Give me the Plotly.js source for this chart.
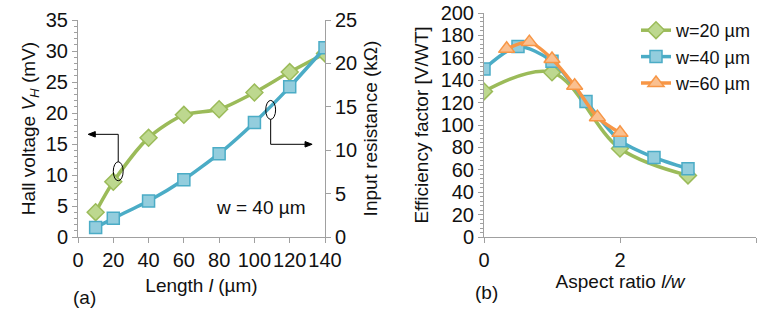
<!DOCTYPE html>
<html>
<head>
<meta charset="utf-8">
<script src="https://cdn.plot.ly/plotly-3.0.1.min.js"></script>
<style>html,body{margin:0;padding:0;background:#fff;}#chart{width:757px;height:324px;}</style>
</head>
<body>
<div id="chart"></div>
<script>
// Panel (a): Hall voltage and input resistance vs length (w = 40 µm)
const lengthUm = [10, 20, 40, 60, 80, 100, 120, 140];
const hallVoltageMV = [4.0, 8.9, 16.0, 19.7, 20.6, 23.3, 26.6, 29.6];
const inputResistanceKOhm = [1.1, 2.15, 4.15, 6.6, 9.6, 13.2, 17.3, 21.8];

// Panel (b): efficiency factor vs aspect ratio
const ratioW20 = [0, 1, 2, 3];
const effW20 = [130, 147, 79, 55];
const ratioW40 = [0, 0.5, 1, 1.5, 2, 2.5, 3];
const effW40 = [150, 170, 157, 121, 86, 71, 61];
const ratioW60 = [0.333, 0.667, 1, 1.333, 1.667, 2];
const effW60 = [168, 174, 159, 135, 107, 93];

const seriesNames = ['w=20 µm', 'w=40 µm', 'w=60 µm'];

const GREEN = '#9BBB59', GREEN_F = '#BDD88F';
const BLUE = '#4BACC6', BLUE_F = '#93CDDD';
const ORANGE = '#F79646', ORANGE_F = '#FAC090';
const FONT = 'Liberation Sans, Arial, sans-serif';
const AXC = '#A0A0A0';
const TXT = '#111';

const traces = [
  {x: lengthUm, y: hallVoltageMV, xaxis: 'x', yaxis: 'y', type: 'scatter', mode: 'lines+markers',
   line: {color: GREEN, width: 3.5, shape: 'spline', smoothing: 0.8},
   marker: {symbol: 'diamond', size: 13, color: GREEN_F, line: {color: GREEN, width: 1.5}}, showlegend: false},
  {x: lengthUm, y: inputResistanceKOhm, xaxis: 'x', yaxis: 'y2', type: 'scatter', mode: 'lines+markers',
   line: {color: BLUE, width: 3.5, shape: 'spline', smoothing: 0.5},
   marker: {symbol: 'square', size: 12, color: BLUE_F, line: {color: BLUE, width: 1.5}}, showlegend: false},
  {x: ratioW20, y: effW20, xaxis: 'x2', yaxis: 'y3', type: 'scatter', mode: 'lines+markers', name: seriesNames[0],
   line: {color: GREEN, width: 3.5, shape: 'spline', smoothing: 1},
   marker: {symbol: 'diamond', size: 13, color: GREEN_F, line: {color: GREEN, width: 1.5}}},
  {x: ratioW40, y: effW40, xaxis: 'x2', yaxis: 'y3', type: 'scatter', mode: 'lines+markers', name: seriesNames[1],
   line: {color: BLUE, width: 3.5, shape: 'spline', smoothing: 0.8},
   marker: {symbol: 'square', size: 12, color: BLUE_F, line: {color: BLUE, width: 1.5}}},
  {x: ratioW60, y: effW60, xaxis: 'x2', yaxis: 'y3', type: 'scatter', mode: 'lines+markers', name: seriesNames[2],
   line: {color: ORANGE, width: 3.5, shape: 'spline', smoothing: 0.8},
   marker: {symbol: 'triangle-up', size: 14, color: ORANGE_F, line: {color: ORANGE, width: 1.5}}}
];

const W = 757, H = 324;
const px = v => v / W;
const py = v => (H - v) / H;

const baseAxis = {
  showline: true, linecolor: AXC, linewidth: 1, showgrid: false, zeroline: false,
  ticks: 'outside', ticklen: 5, tickcolor: AXC, tickwidth: 1, tickangle: 0,
  tickfont: {family: FONT, size: 20, color: TXT}, fixedrange: true
};
const titleFont = {family: FONT, size: 19, color: TXT};

const layout = {
  width: W, height: H,
  margin: {l: 0, r: 0, t: 0, b: 0},
  paper_bgcolor: '#fff', plot_bgcolor: 'rgba(0,0,0,0)',
  font: {family: FONT, size: 18, color: TXT},
  xaxis: Object.assign({}, baseAxis, {domain: [px(78), px(325)], range: [0, 140], dtick: 20, anchor: 'y',
    title: {text: 'Length <i>l</i> (µm)', font: titleFont, standoff: 8}}),
  yaxis: Object.assign({}, baseAxis, {domain: [py(237), py(20)], range: [0, 35], dtick: 5, anchor: 'x',
    minor: {dtick: 1, ticks: 'outside', ticklen: 3, tickcolor: AXC, showgrid: false},
    title: {text: 'Hall voltage <i>V<sub>H</sub></i> (mV)', font: titleFont, standoff: 5}}),
  yaxis2: Object.assign({}, baseAxis, {overlaying: 'y', side: 'right', anchor: 'x', range: [0, 25], dtick: 5,
    title: {text: 'Input resistance (kΩ)', font: titleFont, standoff: 7}}),
  xaxis2: Object.assign({}, baseAxis, {domain: [px(484), px(756)], range: [0, 4], dtick: 2, anchor: 'y3',
    title: {text: 'Aspect ratio <i>l/w</i>', font: titleFont, standoff: 3}}),
  yaxis3: Object.assign({}, baseAxis, {domain: [py(237), py(13)], range: [0, 200], dtick: 20, anchor: 'x2',
    minor: {dtick: 4, ticks: 'outside', ticklen: 3, tickcolor: AXC, showgrid: false},
    title: {text: 'Efficiency factor [V/WT]', font: titleFont, standoff: 6}}),
  showlegend: true,
  legend: {x: px(636), y: py(12), xanchor: 'left', yanchor: 'top', bgcolor: 'rgba(0,0,0,0)',
    font: {family: FONT, size: 18, color: TXT}, tracegroupgap: 0, itemwidth: 30},
  shapes: [
    // left ellipse + leader pointing to the left axis
    {type: 'circle', xref: 'x', yref: 'y', x0: 20.0, x1: 25.6, y0: 9.07, y1: 12.13, line: {color: '#000', width: 1}},
    {type: 'line', xref: 'x', yref: 'y', x0: 22.8, x1: 22.8, y0: 12.13, y1: 16.56, line: {color: '#000', width: 1}},
    {type: 'line', xref: 'x', yref: 'y', x0: 22.8, x1: 9.0, y0: 16.56, y1: 16.56, line: {color: '#000', width: 1}},
    {type: 'path', xref: 'x', yref: 'y', path: 'M 5.8 16.56 L 9.8 17.0 L 9.8 16.12 Z',
     fillcolor: '#000', line: {color: '#000', width: 1}},
    // right ellipse + leader pointing to the right axis
    {type: 'circle', xref: 'x', yref: 'y', x0: 106.4, x1: 112.0, y0: 18.97, y1: 22.03, line: {color: '#000', width: 1}},
    {type: 'line', xref: 'x', yref: 'y', x0: 109.2, x1: 109.2, y0: 18.97, y1: 14.95, line: {color: '#000', width: 1}},
    {type: 'line', xref: 'x', yref: 'y', x0: 109.2, x1: 129.5, y0: 14.95, y1: 14.95, line: {color: '#000', width: 1}},
    {type: 'path', xref: 'x', yref: 'y', path: 'M 132.7 14.95 L 128.7 15.39 L 128.7 14.51 Z',
     fillcolor: '#000', line: {color: '#000', width: 1}}
  ],
  annotations: [
    {xref: 'x', yref: 'y', x: 103.7, y: 4.8, text: 'w = 40 µm', showarrow: false,
     font: {family: FONT, size: 19, color: TXT}},
    {xref: 'paper', yref: 'paper', x: px(71), y: py(310), text: '(a)', showarrow: false,
     font: {family: FONT, size: 19, color: TXT}},
    {xref: 'paper', yref: 'paper', x: px(487), y: py(305), text: '(b)', showarrow: false,
     font: {family: FONT, size: 19, color: TXT}}
  ]
};

Plotly.newPlot('chart', traces, layout, {staticPlot: true, displayModeBar: false});
</script>
</body>
</html>
